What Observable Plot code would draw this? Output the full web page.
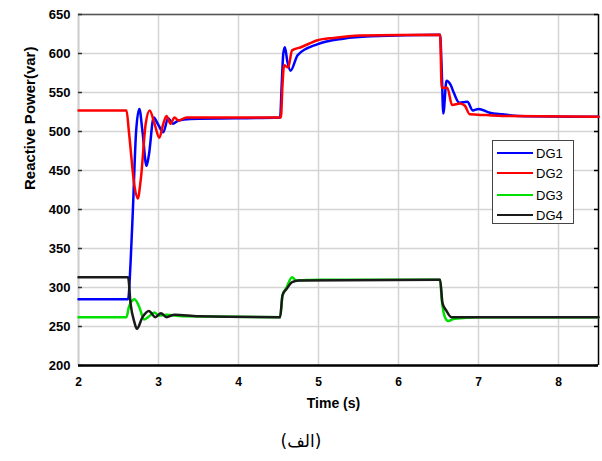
<!DOCTYPE html>
<html>
<head>
<meta charset="utf-8">
<script src="https://cdn.jsdelivr.net/npm/d3@7"></script>
<script src="https://cdn.jsdelivr.net/npm/@observablehq/plot@0.6"></script>
<style>
  html, body { margin: 0; padding: 0; background: #fff; }
  #wrap { position: relative; width: 602px; font-family: "Liberation Sans", Arial, sans-serif; }
  #legend {
    position: absolute; left: 492px; top: 140px; width: 82px; height: 84px;
    border: 1.5px solid #444; background: #fff; box-sizing: border-box;
  }
  .item { position: absolute; left: 4px; height: 20px; display: flex; align-items: center; }
  .swatch { width: 36px; height: 2.5px; margin-right: 3px; }
  .item span { font-size: 13px; color: #000; }
  #caption {
    width: 602px; text-align: center; font-family: "DejaVu Sans", sans-serif;
    font-size: 17px; line-height: 32px; color: #000;
  }
</style>
</head>
<body>
<div id="wrap">
  <div id="chart"></div>
  <div id="legend"></div>
  <div id="caption">(الف)</div>
</div>
<script>
// Reactive power of the four distributed generators over time
const seriesNames = ["DG1", "DG2", "DG3", "DG4"];
const seriesColors = ["#0000ff", "#ff0000", "#00e000", "#1a1a1a"];

const dg1T = [2.0, 2.62, 2.65, 2.68, 2.72, 2.76, 2.80, 2.85, 2.88, 2.94, 2.99, 3.06, 3.12, 3.18, 3.25, 3.4, 4.52,
              4.54, 4.56, 4.58, 4.61, 4.65, 4.74, 4.99, 5.31, 5.65, 6.52,
              6.54, 6.56, 6.60, 6.65, 6.69, 6.76, 6.86, 6.93, 7.0, 7.14, 7.3, 7.5, 8.5];
const dg1V = [285, 285, 330, 400, 500, 529, 500, 456, 470, 518, 510, 499, 517, 510, 514, 516, 518,
              560, 600, 608, 590, 578, 598, 612, 619, 622, 624,
              580, 523, 565, 560, 550, 537, 538, 527, 529, 524, 522, 520, 519];

const dg2T = [2.0, 2.6, 2.63, 2.7, 2.74, 2.78, 2.84, 2.89, 2.95, 3.01, 3.06, 3.10, 3.15, 3.20, 3.25, 3.35, 4.53,
              4.55, 4.57, 4.62, 4.67, 4.78, 4.99, 5.19, 5.52, 6.52,
              6.54, 6.61, 6.67, 6.77, 6.83, 6.89, 7.1, 7.3, 8.5];
const dg2V = [527, 527, 500, 430, 414, 440, 510, 527, 510, 492, 510, 520, 510, 518, 514, 518, 518,
              560, 585, 582, 604, 608, 617, 620, 623, 624,
              556, 556, 534, 536, 533, 522, 521, 520, 519];

const dg3T = [2.0, 2.6, 2.63, 2.7, 2.76, 2.82, 2.87, 2.95, 3.0, 3.1, 3.3, 4.52,
              4.55, 4.6, 4.67, 4.72, 5.0, 6.52,
              6.54, 6.58, 6.62, 6.7, 7.0, 8.5];
const dg3V = [262, 262, 275, 285, 275, 259, 262, 268, 264, 265, 263, 262,
              290, 300, 313, 309, 310, 310,
              285, 262, 257, 260, 262, 262];

const dg4T = [2.0, 2.62, 2.65, 2.7, 2.73, 2.8, 2.88, 2.96, 3.03, 3.1, 3.2, 3.5, 4.52,
              4.55, 4.6, 4.67, 4.75, 6.52,
              6.55, 6.6, 6.66, 7.0, 8.5];
const dg4V = [313, 313, 280, 255, 247, 262, 270, 262, 267, 262, 265, 263, 262,
              290, 298, 307, 309, 310,
              280, 270, 262, 262, 262];

const xDomain = [2, 8.5];
const yDomain = [200, 650];
const xTicks = [2, 3, 4, 5, 6, 7, 8];
const yTicks = [200, 250, 300, 350, 400, 450, 500, 550, 600, 650];

const seriesT = [dg1T, dg2T, dg3T, dg4T];
const seriesV = [dg1V, dg2V, dg3V, dg4V];
const rows = seriesNames.flatMap((name, i) =>
  seriesT[i].map((t, j) => ({series: name, t, v: seriesV[i][j]}))
);

const tickLen = 0.05; // short inward ticks along the left and right frame edges

const chart = Plot.plot({
  width: 602,
  height: 425,
  marginLeft: 78,
  marginRight: 4,
  marginTop: 14,
  marginBottom: 60,
  style: {fontFamily: "Liberation Sans, Arial, sans-serif", color: "#000", background: "#fff"},
  x: {domain: xDomain, label: null},
  y: {domain: yDomain, label: null},
  color: {domain: seriesNames, range: seriesColors},
  marks: [
    Plot.ruleX(xTicks, {stroke: "#d4d4d4", strokeWidth: 1.5}),
    Plot.ruleY(yTicks, {stroke: "#d4d4d4", strokeWidth: 1.5}),
    Plot.ruleX([xDomain[0]], {stroke: "#cfcfcf", strokeWidth: 2}),
    Plot.ruleX([xDomain[1]], {stroke: "#000", strokeWidth: 1.5}),
    Plot.ruleY([yDomain[1]], {stroke: "#555", strokeWidth: 1.5}),
    Plot.ruleY(yTicks, {x1: xDomain[0], x2: xDomain[0] + tickLen, stroke: "#333", strokeWidth: 1.5}),
    Plot.ruleY(yTicks, {x1: xDomain[1] - tickLen, x2: xDomain[1], stroke: "#000", strokeWidth: 1.5}),
    Plot.line(rows, {x: "t", y: "v", z: "series", stroke: "series", strokeWidth: 2.5,
                     curve: "monotone-x", strokeLinejoin: "round"}),
    Plot.ruleY([yDomain[0]], {stroke: "#000", strokeWidth: 2.5}),
    Plot.axisX(xTicks, {tickSize: 0, tickPadding: 12, fontSize: 12, fontWeight: "bold", label: null}),
    Plot.axisY(yTicks, {tickSize: 0, tickPadding: 8, fontSize: 13, fontWeight: "bold", label: null}),
    Plot.text(["Time (s)"], {frameAnchor: "bottom", dy: 42, fontSize: 14, fontWeight: "bold", dx: -5}),
    Plot.text(["Reactive Power(var)"], {frameAnchor: "left", rotate: -90, dx: -48, fontSize: 15, fontWeight: "bold"})
  ]
});
document.getElementById("chart").appendChild(chart);

// Legend box inside the plot area
const legend = document.getElementById("legend");
const rowTops = [2, 22, 44, 64];
seriesNames.forEach((name, i) => {
  const item = document.createElement("div");
  item.className = "item";
  item.style.top = rowTops[i] + "px";
  const sw = document.createElement("div");
  sw.className = "swatch";
  sw.style.background = seriesColors[i];
  const label = document.createElement("span");
  label.textContent = name;
  item.appendChild(sw);
  item.appendChild(label);
  legend.appendChild(item);
});
</script>
</body>
</html>
